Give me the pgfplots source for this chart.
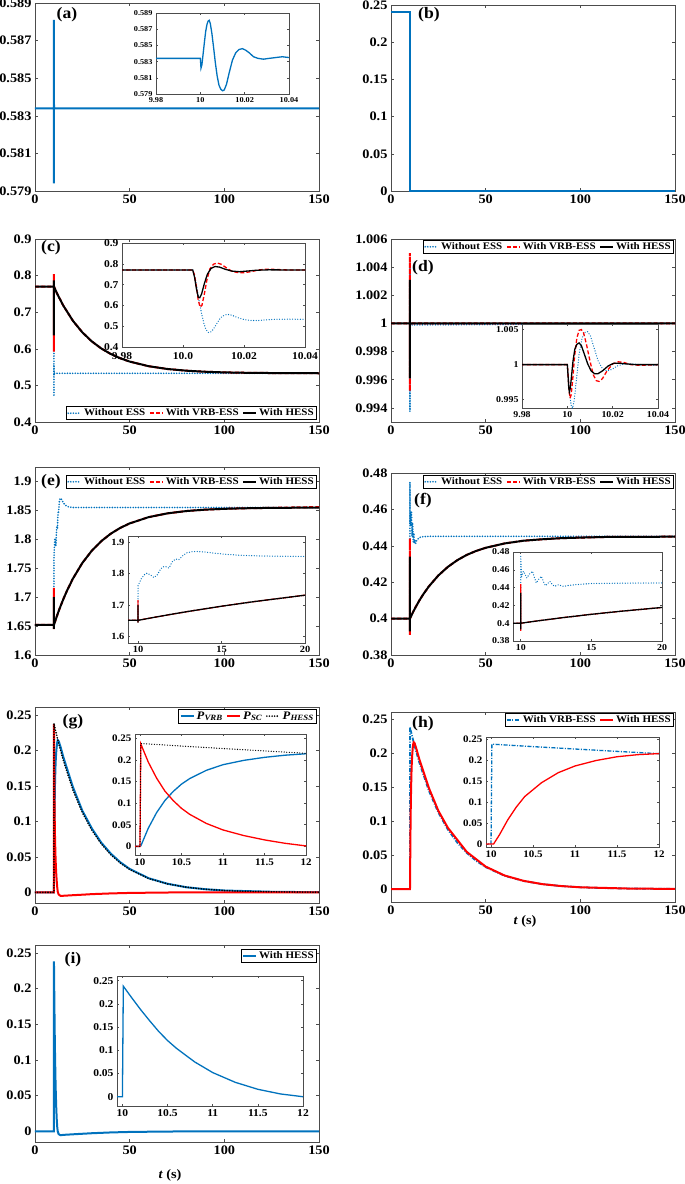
\documentclass[border=0pt]{standalone}
\usepackage{fontspec}
\setmainfont{Liberation Serif}[FakeStretch=1.1]
\usepackage{pgfplots}
\usepackage{pgfplotstable}
\pgfplotsset{compat=1.18}

\definecolor{mblue}{rgb}{0,0.447,0.741}
\newcommand{\fs}[1]{\fontsize{#1}{#1}\selectfont}

\pgfplotsset{
  base/.style={scale only axis, tick align=inside, major tick length=3pt,
    axis line style={black!70, line width=0.6pt},
    every tick/.style={black!70, line width=0.6pt},
    /pgf/number format/assume math mode=true,
    xticklabel style={font=\bfseries\fs{13}},
    yticklabel style={font=\bfseries\fs{13}},
    legend cell align=left,
    legend style={font=\bfseries\fs{10}, draw=black, line width=0.6pt,
      inner xsep=1pt, inner ysep=0.3pt,
      /tikz/every even column/.append style={column sep=1.5pt}},
    legend image code/.code={\draw[#1] (0pt,0pt) -- (13pt,0pt);},
  },
  mainax/.style={base, width=284pt, xmin=0, xmax=150, xtick={0,50,100,150}},
  inset/.style={base, axis background/.style={fill=white}, major tick length=2pt,
    xticklabel style={font=\bfseries\fs{#1}}, yticklabel style={font=\bfseries\fs{#1}}},
  lblue/.style={mblue, line width=2pt},
  ldot/.style={mblue, line width=1.8pt, line cap=round, dash pattern=on 0pt off 2.6pt},
  lred/.style={red, line width=2pt},
  lredd/.style={red, line width=2pt, dash pattern=on 4pt off 2.2pt},
  lblack/.style={black, line width=2pt},
  lkdot/.style={black, line width=1.8pt, line cap=round, dash pattern=on 0pt off 2.6pt},
  ldashdot/.style={mblue, line width=1.8pt, dash pattern=on 4pt off 1.5pt on 1pt off 1.5pt},
  iw/.style={line width=1.3pt},
}

% (a)
\pgfplotstableread{
t v
0 0.5834
9.9 0.5834
10.0000 0.5834
10.0003 0.5822
10.0007 0.5826
10.0012 0.5838
10.0018 0.5853
10.0024 0.5867
10.0030 0.5876
10.0035 0.5880
10.0040 0.5881
10.0045 0.5877
10.0052 0.5865
10.0060 0.5847
10.0068 0.5828
10.0076 0.5812
10.0084 0.5801
10.0092 0.5796
10.0100 0.5794
10.0108 0.5795
10.0118 0.5802
10.0130 0.5816
10.0145 0.5832
10.0160 0.5841
10.0175 0.5845
10.0190 0.5846
10.0205 0.5844
10.0220 0.5841
10.0240 0.5836
10.0260 0.5834
10.0285 0.5833
10.0310 0.5834
10.0340 0.5835
10.0370 0.5836
10.0400 0.5835
10.0600 0.5834
150 0.5834
}\tA

% (c)
\pgfplotstableread{
t v
0 0.770
9.9 0.770
10.0032 0.770
10.0038 0.740
10.0045 0.690
10.0053 0.620
10.0061 0.560
10.0069 0.510
10.0076 0.482
10.0083 0.470
10.0090 0.471
10.0098 0.483
10.0108 0.506
10.0118 0.530
10.0128 0.547
10.0140 0.555
10.0152 0.556
10.0165 0.550
10.0180 0.541
10.0200 0.532
10.0220 0.528
10.0242 0.527
10.0270 0.530
10.0300 0.533
10.0350 0.534
10.0400 0.533
150 0.533
}\tCb
\pgfplotstableread{
t v
0 0.770
9.9 0.770
10.0032 0.770
10.0038 0.745
10.0044 0.690
10.0050 0.625
10.0056 0.592
10.0062 0.600
10.0070 0.655
10.0078 0.720
10.0088 0.775
10.0100 0.798
10.0112 0.804
10.0125 0.798
10.0140 0.783
10.0158 0.766
10.0178 0.758
10.0200 0.757
10.0225 0.763
10.0250 0.771
10.0275 0.774
10.0300 0.773
10.0350 0.770
10.0400 0.770
11 0.7584
12 0.7474
15 0.7176
20 0.6767
25 0.6450
30 0.6202
35 0.6009
40 0.5859
45 0.5742
50 0.5651
60 0.5525
70 0.5448
80 0.5402
90 0.5373
100 0.5356
110 0.5346
125 0.5338
150 0.5332
}\tCr
\pgfplotstableread{
t v
0 0.770
9.9 0.770
10.0032 0.770
10.0038 0.735
10.0044 0.680
10.0050 0.640
10.0055 0.637
10.0061 0.655
10.0070 0.705
10.0080 0.750
10.0092 0.778
10.0105 0.787
10.0120 0.784
10.0138 0.774
10.0160 0.765
10.0185 0.762
10.0210 0.765
10.0240 0.769
10.0280 0.771
10.0400 0.770
11 0.7584
12 0.7474
15 0.7176
20 0.6767
25 0.6450
30 0.6202
35 0.6009
40 0.5859
45 0.5742
50 0.5651
60 0.5525
70 0.5448
80 0.5402
90 0.5373
100 0.5356
110 0.5346
125 0.5338
150 0.5332
}\tCk

% (d)
\pgfplotstableread{
t v
0 1
9.9 1
10.0000 1
10.0006 0.9975
10.0012 0.9953
10.0018 0.9940
10.0023 0.99375
10.0030 0.9948
10.0040 0.9978
10.0052 1.0015
10.0065 1.0038
10.0078 1.0046
10.0090 1.0047
10.0102 1.0041
10.0118 1.0024
10.0135 1.0006
10.0155 0.9994
10.0175 0.9991
10.0195 0.9993
10.0220 0.9998
10.0250 1.0001
10.0280 1.0001
10.0320 1.0000
10.0400 0.9999
150 1
}\tDb
\pgfplotstableread{
t v
0 1
9.9 1
10.0000 1
10.0004 0.9982
10.0008 0.9962
10.0012 0.9952
10.0017 0.9957
10.0024 0.9980
10.0032 1.0012
10.0042 1.0038
10.0052 1.0049
10.0062 1.0050
10.0072 1.0045
10.0085 1.0028
10.0100 1.0005
10.0115 0.9985
10.0128 0.9977
10.0140 0.9976
10.0155 0.9980
10.0175 0.9991
10.0200 1.0001
10.0225 1.0004
10.0250 1.0003
10.0280 1.0000
10.0320 0.9999
10.0400 1.0000
150 1
}\tDr
\pgfplotstableread{
t v
0 1
9.9 1
10.0000 1
10.0003 0.9985
10.0006 0.9968
10.0009 0.9961
10.0013 0.9966
10.0018 0.9982
10.0025 1.0005
10.0033 1.0022
10.0042 1.0029
10.0052 1.0031
10.0062 1.0027
10.0075 1.0015
10.0090 1.0001
10.0105 0.9991
10.0120 0.9987
10.0135 0.9987
10.0155 0.9991
10.0180 0.9998
10.0205 1.0002
10.0230 1.0002
10.0260 1.0001
10.0300 1.0000
10.0400 1.0000
150 1
}\tDk

% (e)
\pgfplotstableread{
t v
0 1.652
10.000 1.652
10.001 1.650
10.005 1.763
10.20 1.785
10.40 1.798
10.55 1.802
10.75 1.796
10.95 1.788
11.15 1.796
11.35 1.815
11.50 1.822
11.65 1.823
11.85 1.818
12.05 1.838
12.25 1.847
12.45 1.845
12.65 1.856
12.90 1.866
13.20 1.870
13.50 1.871
14.00 1.869
14.50 1.866
15.00 1.863
16.00 1.859
17.00 1.857
18.00 1.856
20.00 1.855
150 1.855
}\tEb
\pgfplotstableread{
t v
0 1.652
10.000 1.652
10.001 1.716
10.002 1.643
10.004 1.652
11 1.6619
12 1.6713
13 1.6803
15 1.6969
17 1.7119
20 1.7319
25 1.7591
30 1.7803
35 1.7968
40 1.8097
45 1.8197
50 1.8275
60 1.8383
70 1.8449
80 1.8489
90 1.8513
100 1.8527
110 1.8536
125 1.8544
150 1.8558
}\tEr
\pgfplotstableread{
t v
0 1.652
10.000 1.652
10.001 1.700
10.002 1.645
10.004 1.652
11 1.6619
12 1.6713
13 1.6803
15 1.6969
17 1.7119
20 1.7319
25 1.7591
30 1.7803
35 1.7968
40 1.8097
45 1.8197
50 1.8275
60 1.8383
70 1.8449
80 1.8489
90 1.8513
100 1.8527
110 1.8536
125 1.8544
150 1.8548
}\tEk

% (f)
\pgfplotstableread{
t v
0 0.400
10.000 0.400
10.001 0.475
10.06 0.452
10.12 0.456
10.19 0.4584
10.30 0.455
10.43 0.4508
10.60 0.455
10.84 0.4584
10.97 0.451
11.10 0.4452
11.30 0.450
11.46 0.4527
11.60 0.447
11.75 0.4421
11.90 0.4445
12.06 0.4470
12.23 0.4435
12.40 0.4414
12.55 0.4425
12.70 0.4433
12.88 0.4420
13.06 0.4414
13.40 0.4425
14.00 0.4435
15.00 0.4446
17.00 0.4450
20.00 0.4452
150 0.4452
}\tFb
\pgfplotstableread{
t v
0 0.400
10.000 0.400
10.001 0.444
10.002 0.391
10.004 0.400
11 0.4022
12 0.4043
13 0.4063
15 0.4100
17 0.4133
20 0.4177
25 0.4237
30 0.4284
35 0.4321
40 0.4350
45 0.4372
50 0.4389
60 0.4413
70 0.4428
80 0.4436
90 0.4442
100 0.4445
115 0.4449
150 0.4450
}\tFr
\pgfplotstableread{
t v
0 0.400
10.000 0.400
10.001 0.434
10.002 0.393
10.004 0.400
11 0.4022
12 0.4043
13 0.4063
15 0.4100
17 0.4133
20 0.4177
25 0.4237
30 0.4284
35 0.4321
40 0.4350
45 0.4372
50 0.4389
60 0.4413
70 0.4428
80 0.4436
90 0.4442
100 0.4445
115 0.4449
150 0.4450
}\tFk

% (g)
\pgfplotstableread{
t v
0 0
9.9 0
10.00 0
10.01 0.001
10.1 0.0420
10.2 0.0780
10.3 0.1060
10.4 0.1270
10.5 0.1440
10.6 0.1570
10.8 0.1760
11.0 0.1890
11.25 0.1990
11.5 0.2060
11.75 0.2110
12.0 0.2143
12.5 0.2130
13.5 0.2048
15 0.1902
20 0.1484
25 0.1150
30 0.0901
35 0.0700
40 0.0546
45 0.0425
50 0.0330
60 0.0199
70 0.0121
80 0.0072
90 0.0044
100 0.0026
125 0.0008
150 0.0002
}\tGv
\pgfplotstableread{
t v
0 0
9.9 0
10.00 0
10.01 0.237
10.1 0.195
10.2 0.158
10.3 0.128
10.4 0.106
10.5 0.088
10.6 0.074
10.8 0.053
11.0 0.038
11.25 0.025
11.5 0.015
11.75 0.007
12.0 0.001
12.5 -0.003
13.5 -0.005
15 -0.0048
20 -0.0040
25 -0.0033
30 -0.0025
40 -0.0015
50 -0.0008
70 -0.0002
100 0
150 0
}\tGs
\pgfplotstableread{
t v
0 0
9.9 0
10 0
10.01 0.2380
10.5 0.2321
11 0.2264
11.5 0.2208
12 0.2153
13 0.2048
15 0.1854
20 0.1444
25 0.1124
30 0.0876
35 0.0682
40 0.0531
45 0.0414
50 0.0322
60 0.0195
70 0.0119
80 0.0072
90 0.0044
100 0.0026
110 0.0016
125 0.0008
150 0.0002
}\tGh

% (h)
\pgfplotstableread{
t v
0 0
9.9 0
10.03 0
10.1 0.022
10.2 0.058
10.3 0.088
10.4 0.113
10.6 0.146
10.8 0.170
11.0 0.186
11.25 0.199
11.5 0.208
11.75 0.213
12.0 0.2155
12.5 0.2140
13.5 0.2050
15 0.1902
20 0.1484
25 0.1150
30 0.0901
40 0.0546
50 0.0330
60 0.0199
70 0.0121
80 0.0072
90 0.0044
100 0.0026
125 0.0008
150 0.0002
}\tHr

% (i)
\pgfplotstableread{
t v
0 0
9.9 0
10 0
10.01 0.238
10.1 0.214
10.2 0.188
10.3 0.164
10.4 0.141
10.5 0.121
10.6 0.104
10.8 0.075
11.0 0.052
11.25 0.031
11.5 0.016
11.75 0.006
12.0 0.000
12.5 -0.004
13.5 -0.0055
15 -0.005
20 -0.0042
30 -0.0027
40 -0.0016
50 -0.0009
70 -0.0003
100 0
150 0
}\tI

\begin{document}
\begin{tikzpicture}
\useasboundingbox (0,0) rectangle (685pt,-1184pt);

% ---------- (a)
\begin{axis}[mainax, at={(35pt,-3pt)}, anchor=north west, height=188pt,
  ymin=0.579, ymax=0.589, ytick={0.579,0.581,0.583,0.585,0.587,0.589},
  yticklabels={0.579,0.581,0.583,0.585,0.587,0.589}]
\addplot[lblue] table {\tA};
\end{axis}
\begin{axis}[inset=7.5, at={(156pt,-13pt)}, anchor=north west, width=133pt, height=81pt,
  xmin=9.98, xmax=10.04, xtick={9.98,10,10.02,10.04}, xticklabels={9.98,10,10.02,10.04},
  ymin=0.579, ymax=0.589, ytick={0.579,0.581,0.583,0.585,0.587,0.589},
  yticklabels={0.579,0.581,0.583,0.585,0.587,0.589}]
\addplot[lblue, iw, restrict x to domain=9.85:10.2] table {\tA};
\end{axis}
\node[font=\bfseries\fs{16}] at (67pt,-15pt) {(a)};

% ---------- (b)
\begin{axis}[mainax, at={(391pt,-5pt)}, anchor=north west, height=186pt,
  ymin=0, ymax=0.25, ytick={0,0.05,0.1,0.15,0.2,0.25},
  yticklabels={0,0.05,0.1,0.15,0.2,0.25}]
\addplot[lblue] coordinates {(0,0.24) (10,0.24) (10,0) (150,0)};
\end{axis}
\node[font=\bfseries\fs{16}] at (429pt,-15pt) {(b)};

% ---------- (c)
\begin{axis}[mainax, at={(35pt,-239pt)}, anchor=north west, height=183pt,
  ymin=0.4, ymax=0.9, ytick={0.4,0.5,0.6,0.7,0.8,0.9},
  yticklabels={0.4,0.5,0.6,0.7,0.8,0.9},
  legend columns=3, legend style={at={(1,0)}, anchor=south east, xshift=-2pt, yshift=2pt}]
\addplot[ldot] table {\tCb};
\addplot[lredd] table {\tCr};
\addplot[lblack] table {\tCk};
\legend{Without ESS, With VRB-ESS, With HESS}
\end{axis}
\begin{axis}[inset=10.5, at={(122pt,-243pt)}, anchor=north west, width=183pt, height=104pt,
  xmin=9.98, xmax=10.04, xtick={9.98,10,10.02,10.04}, xticklabels={9.98,10.0,10.02,10.04},
  xticklabel style={yshift=-1.5pt},
  ymin=0.4, ymax=0.9, ytick={0.4,0.5,0.6,0.7,0.8,0.9},
  yticklabels={0.4,0.5,0.6,0.7,0.8,0.9}]
\addplot[ldot, iw, restrict x to domain=9.85:10.2] table {\tCb};
\addplot[lredd, iw, restrict x to domain=9.85:10.2] table {\tCr};
\addplot[lblack, iw, restrict x to domain=9.85:10.2] table {\tCk};
\end{axis}
\node[font=\bfseries\fs{16}] at (51pt,-248pt) {(c)};

% ---------- (d)
\begin{axis}[mainax, at={(391pt,-239pt)}, anchor=north west, height=183pt,
  ymin=0.993, ymax=1.006, ytick={0.994,0.996,0.998,1,1.002,1.004,1.006},
  yticklabels={0.994,0.996,0.998,1,1.002,1.004,1.006},
  legend columns=3, legend style={at={(1,1)}, anchor=north east, xshift=-1pt, yshift=-1pt}]
\addplot[ldot] table {\tDb};
\addplot[lredd] table {\tDr};
\addplot[lblack] table {\tDk};
\legend{Without ESS, With VRB-ESS, With HESS}
\end{axis}
\begin{axis}[inset=9, at={(522pt,-324pt)}, anchor=north west, width=136pt, height=84pt,
  xmin=9.98, xmax=10.04, xtick={9.98,10,10.02,10.04}, xticklabels={9.98,10,10.02,10.04},
  ymin=0.9938, ymax=1.0058, ytick={0.995,1,1.005}, yticklabels={0.995,1,1.005}]
\addplot[ldot, iw, restrict x to domain=9.85:10.2] table {\tDb};
\addplot[lredd, iw, restrict x to domain=9.85:10.2] table {\tDr};
\addplot[lblack, iw, restrict x to domain=9.85:10.2] table {\tDk};
\end{axis}
\node[font=\bfseries\fs{16}] at (423pt,-268pt) {(d)};

% ---------- (e)
\begin{axis}[mainax, at={(35pt,-467pt)}, anchor=north west, height=188pt,
  ymin=1.6, ymax=1.925, ytick={1.6,1.65,1.7,1.75,1.8,1.85,1.9},
  yticklabels={1.6,1.65,1.7,1.75,1.8,1.85,1.9},
  legend columns=3, legend style={at={(1,1)}, anchor=north east, xshift=-2pt, yshift=-8pt}]
\addplot[ldot] table {\tEb};
\addplot[lredd] table {\tEr};
\addplot[lblack] table {\tEk};
\legend{Without ESS, With VRB-ESS, With HESS}
\end{axis}
\begin{axis}[inset=9.5, at={(128pt,-536pt)}, anchor=north west, width=177pt, height=107pt,
  xmin=9.4, xmax=20, xtick={10,15,20}, xticklabels={10,15,20},
  ymin=1.58, ymax=1.92, ytick={1.6,1.7,1.8,1.9}, yticklabels={1.6,1.7,1.8,1.9}]
\addplot[ldot, iw] table {\tEb};
\addplot[lredd, iw] table {\tEr};
\addplot[lblack, iw] table {\tEk};
\end{axis}
\node[font=\bfseries\fs{16}] at (51pt,-482pt) {(e)};

% ---------- (f)
\begin{axis}[mainax, at={(391pt,-473pt)}, anchor=north west, height=182pt,
  ymin=0.38, ymax=0.48, ytick={0.38,0.4,0.42,0.44,0.46,0.48},
  yticklabels={0.38,0.4,0.42,0.44,0.46,0.48},
  legend columns=3, legend style={at={(1,1)}, anchor=north east, xshift=-1pt, yshift=-2pt}]
\addplot[ldot] table {\tFb};
\addplot[lredd] table {\tFr};
\addplot[lblack] table {\tFk};
\legend{Without ESS, With VRB-ESS, With HESS}
\end{axis}
\begin{axis}[inset=9, at={(513pt,-552pt)}, anchor=north west, width=149pt, height=89pt,
  xmin=9.45, xmax=20, xtick={10,15,20}, xticklabels={10,15,20},
  ymin=0.38, ymax=0.48, ytick={0.38,0.4,0.42,0.44,0.46,0.48},
  yticklabels={0.38,0.4,0.42,0.44,0.46,0.48}]
\addplot[ldot, iw] table {\tFb};
\addplot[lredd, iw] table {\tFr};
\addplot[lblack, iw] table {\tFk};
\end{axis}
\node[font=\bfseries\fs{16}] at (423pt,-501pt) {(f)};

% ---------- (g)
\begin{axis}[mainax, at={(35pt,-707pt)}, anchor=north west, height=196pt,
  ymin=-0.015, ymax=0.261, ytick={0,0.05,0.1,0.15,0.2,0.25},
  yticklabels={0,0.05,0.1,0.15,0.2,0.25},
  legend columns=3, legend style={font=\bfseries\fs{11.5}, at={(1,1)}, anchor=north east, xshift=-2pt, yshift=-2pt}]
\addplot[lblue] table {\tGv};
\addplot[lred] table {\tGs};
\addplot[lkdot] table {\tGh};
\legend{\textit{P}\textsubscript{\textit{VRB}}, \textit{P}\textsubscript{\textit{SC}}, \textit{P}\textsubscript{\textit{HESS}}}
\end{axis}
\begin{axis}[inset=10, at={(135pt,-734pt)}, anchor=north west, width=171pt, height=121pt,
  xmin=9.94, xmax=12, xtick={10,10.5,11,11.5,12}, xticklabels={10,10.5,11,11.5,12},
  ymin=-0.02, ymax=0.26, ytick={0,0.05,0.1,0.15,0.2,0.25},
  yticklabels={0,0.05,0.1,0.15,0.2,0.25}]
\addplot[lblue, iw, restrict x to domain=9:14] table {\tGv};
\addplot[lred, iw, restrict x to domain=9:14] table {\tGs};
\addplot[lkdot, iw, restrict x to domain=9:14] table {\tGh};
\end{axis}
\node[font=\bfseries\fs{16}] at (73pt,-722pt) {(g)};

% ---------- (h)
\begin{axis}[mainax, at={(391pt,-712pt)}, anchor=north west, height=190pt,
  ymin=-0.019, ymax=0.26, ytick={0,0.05,0.1,0.15,0.2,0.25},
  yticklabels={0,0.05,0.1,0.15,0.2,0.25},
  legend columns=2, legend style={at={(1,1)}, anchor=north east, xshift=-1pt, yshift=-1pt}]
\addplot[ldashdot] table {\tGh};
\addplot[lred] table {\tHr};
\legend{With VRB-ESS, With HESS}
\end{axis}
\begin{axis}[inset=10, at={(486pt,-737pt)}, anchor=north west, width=173pt, height=110pt,
  xmin=9.94, xmax=12, xtick={10,10.5,11,11.5,12}, xticklabels={10,10.5,11,11.5,12},
  ymin=-0.007, ymax=0.255, ytick={0,0.05,0.1,0.15,0.2,0.25},
  yticklabels={0,0.05,0.1,0.15,0.2,0.25}]
\addplot[ldashdot, iw, restrict x to domain=9:14] table {\tGh};
\addplot[lred, iw, restrict x to domain=9:14] table {\tHr};
\end{axis}
\node[font=\bfseries\fs{16}] at (423pt,-724pt) {(h)};
\node[font=\bfseries\fs{13}] at (525pt,-921pt) {\textit{t} (s)};

% ---------- (i)
\begin{axis}[mainax, at={(35pt,-945pt)}, anchor=north west, height=197pt,
  ymin=-0.015, ymax=0.261, ytick={0,0.05,0.1,0.15,0.2,0.25},
  yticklabels={0,0.05,0.1,0.15,0.2,0.25},
  legend style={at={(1,1)}, anchor=north east, xshift=-2pt, yshift=-4pt}]
\addplot[lblue] table {\tI};
\legend{With HESS}
\end{axis}
\begin{axis}[inset=10.5, at={(117pt,-976pt)}, anchor=north west, width=186pt, height=130pt,
  xmin=9.94, xmax=12, xtick={10,10.5,11,11.5,12}, xticklabels={10,10.5,11,11.5,12},
  ymin=-0.02, ymax=0.26, ytick={0,0.05,0.1,0.15,0.2,0.25},
  yticklabels={0,0.05,0.1,0.15,0.2,0.25}]
\addplot[lblue, iw, restrict x to domain=9:14] table {\tI};
\end{axis}
\node[font=\bfseries\fs{16}] at (73pt,-960pt) {(i)};
\node[font=\bfseries\fs{13}] at (170pt,-1175pt) {\textit{t} (s)};

\end{tikzpicture}
\end{document}
